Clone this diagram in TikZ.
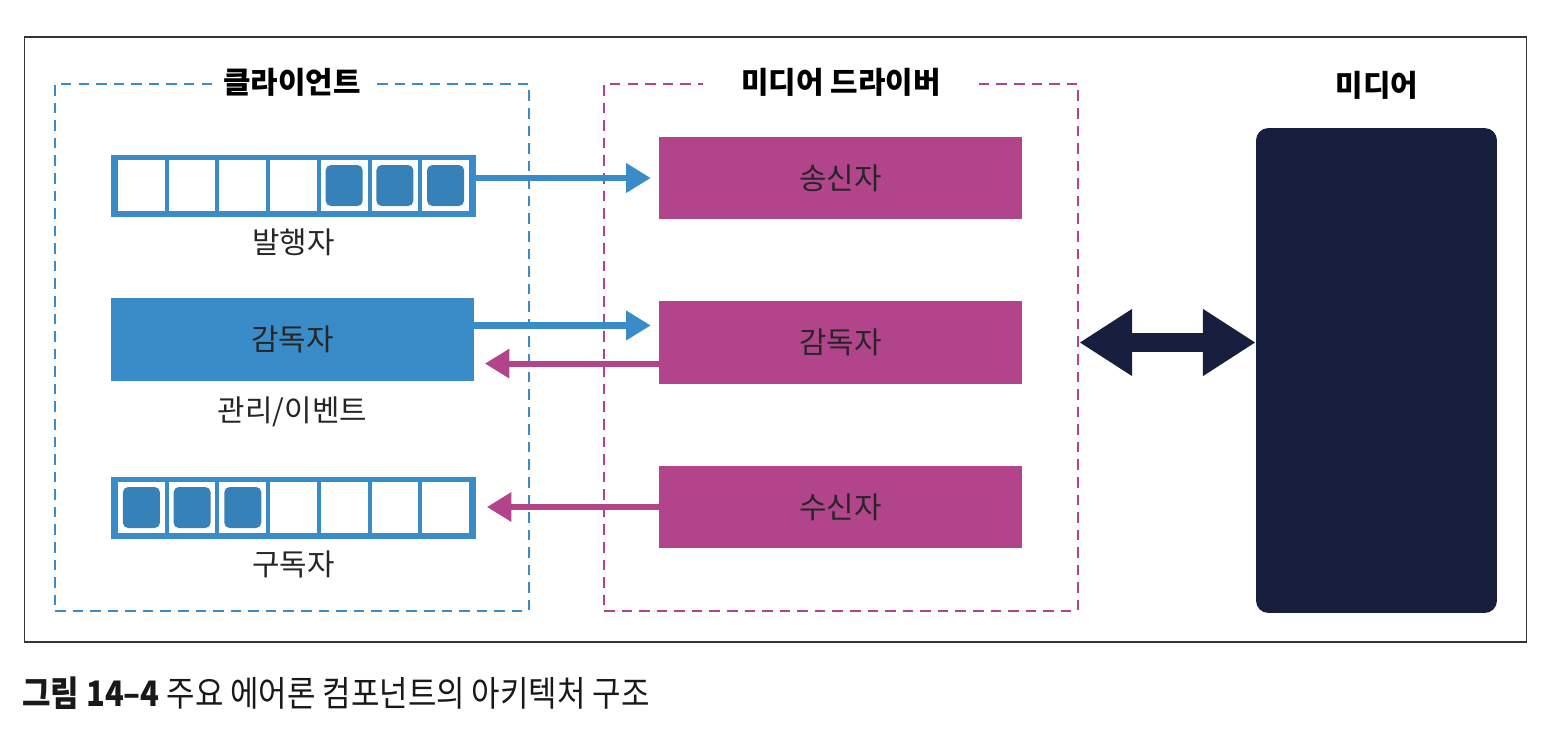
\documentclass[tikz,border=0pt]{standalone}
\usepackage{fontspec}
\setmainfont{Noto Sans CJK KR}
\usetikzlibrary{positioning, arrows.meta}

\definecolor{clientblue}{RGB}{58,140,200}
\definecolor{drivermag}{RGB}{178,68,140}
\definecolor{medianavy}{RGB}{24,30,62}

\begin{document}
\begin{tikzpicture}[x=0.02cm, y=-0.02cm,
    frame/.style={draw=black!80, line width=0.9pt, minimum width=30.04cm, minimum height=12.1cm, inner sep=0pt},
    group/.style={draw=#1, dashed, dash pattern=on 6pt off 4pt, line width=1.6pt, minimum width=9.48cm, minimum height=10.54cm, inner sep=0pt},
    queue/.style={rectangle, fill=clientblue, minimum width=7.3cm, minimum height=1.24cm, inner sep=0pt},
    cell/.style={rectangle, fill=white, minimum width=0.934cm, minimum height=1.02cm, inner sep=0pt},
    full/.style={rectangle, fill=clientblue!92!black, rounded corners=3pt, minimum width=0.74cm, minimum height=0.82cm, inner sep=0pt},
    block/.style={rectangle, fill=#1, minimum width=7.26cm, minimum height=1.65cm, inner sep=0pt, font=\fontsize{17}{20}\selectfont, text=black!85},
    title_style/.style={fill=white, font=\fontsize{17}{20}\selectfont\bfseries, inner ysep=2pt},
    label_style/.style={font=\fontsize{17}{20}\selectfont, text=black!85},
    connect/.style={-{Triangle[length=14pt, width=16pt]}, line width=3.5pt, #1},
    bigarrow/.style={{Triangle[length=30pt, width=36pt]}-{Triangle[length=30pt, width=36pt]}, line width=11pt, medianavy}
]
    \useasboundingbox (0,0) rectangle (1558,728);

    % --- OUTER FRAME ---
    \node[frame] (frame) at (775.5,339.5) {};

    % --- CLIENT GROUP ---
    \node[group=clientblue] (client) at (292,347.5) {};
    \node[title_style, inner xsep=6pt] (clienttitle) at (client.north) {클라이언트};

    % publisher queue
    \node[queue] (pub) at (293.5,185.5) {};
    \foreach \i in {0,...,6} {
        \node[cell] (pub-\i) at ({141.4+\i*50.7},185.5) {};
    }
    \foreach \i in {4,5,6} {
        \node[full] at (pub-\i) {};
    }
    \node[label_style, below=0.12cm of pub] (publabel) {발행자};

    % supervisor
    \node[block=clientblue] (sup) at (292.5,339.5) {감독자};
    \node[label_style, below=0.18cm of sup] (suplabel) {관리/이벤트};

    % subscriber queue
    \node[queue] (sub) at (293.5,507.5) {};
    \foreach \i in {0,...,6} {
        \node[cell] (sub-\i) at ({141.4+\i*50.7},507.5) {};
    }
    \foreach \i in {0,1,2} {
        \node[full] at (sub-\i) {};
    }
    \node[label_style, below=0.12cm of sub] (sublabel) {구독자};

    % --- MEDIA DRIVER GROUP ---
    \node[group=drivermag] (driver) at (841,347.5) {};
    \node[title_style, inner xsep=22pt] (drivertitle) at (driver.north) {미디어 드라이버};

    \node[block=drivermag] (sender) at (840.5,178) {송신자};
    \node[block=drivermag] (msup) at (840.5,342.5) {감독자};
    \node[block=drivermag] (receiver) at (840.5,507) {수신자};

    % --- MEDIA ---
    \node[rectangle, fill=medianavy, rounded corners=7pt, minimum width=4.82cm, minimum height=9.7cm] (media) at (1376.5,370.5) {};
    \node[title_style] (mediatitle) at (1377,85) {미디어};

    % --- CONNECTIONS ---
    \draw[connect=clientblue, shorten >=4.5pt] (pub.east |- sender.west) -- (sender.west);
    \draw[connect=clientblue, shorten >=4.5pt] ([yshift=8pt]sup.east) -- ([yshift=8pt]sup.east -| msup.west);
    \draw[connect=drivermag, shorten >=6pt] ([yshift=-12pt]msup.west) -- ([yshift=-12pt]msup.west -| sup.east);
    \draw[connect=drivermag, shorten >=6pt] (receiver.west) -- (receiver.west -| sub.east);
    \draw[bigarrow] (driver.east |- msup.east) -- (media.west |- msup.east);

    % --- CAPTION ---
    \node[anchor=west, inner sep=0pt, font=\fontsize{20}{22}\selectfont, text=black!90] (caption) at (22,693)
        {\scalebox{0.88}[1]{{\bfseries 그림 14–4} 주요 에어론 컴포넌트의 아키텍처 구조}};
\end{tikzpicture}
\end{document}
